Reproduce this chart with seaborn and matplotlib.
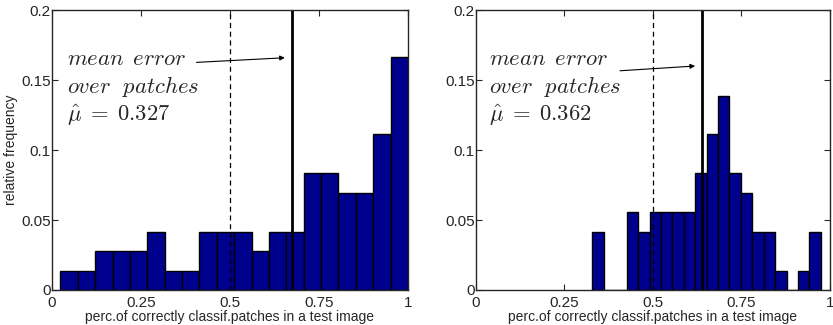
import numpy as np
import pandas as pd
import matplotlib
matplotlib.use('Agg')
import matplotlib.pyplot as plt
import seaborn as sns

# number of test images per histogram (heights are counts / 72)
n_images = 72

# left panel: 20 bins between min and max of the per-image accuracy
left_range = (0.0238, 1.0)
left_counts = [1, 1, 2, 2, 2, 3, 1, 1, 3, 3, 3, 2, 3, 3, 6, 6, 5, 5, 8, 12]
left_mu = 0.327

# right panel
right_range = (0.329, 0.974)
right_counts = [3, 0, 0, 4, 3, 4, 4, 4, 4, 6, 8, 10, 6, 5, 3, 3, 1, 0, 1, 3]
right_mu = 0.362

xticks = [0, 0.25, 0.5, 0.75, 1]
xticklabels = ['0', '0.25', '0.5', '0.75', '1']
yticks = [0, 0.05, 0.1, 0.15, 0.2]
yticklabels = ['0', '0.05', '0.1', '0.15', '0.2']

sns.set_style('ticks')
plt.rcParams['font.family'] = ['Liberation Sans', 'DejaVu Sans']
plt.rcParams['mathtext.fontset'] = 'cm'
plt.rcParams['xtick.direction'] = 'in'
plt.rcParams['ytick.direction'] = 'in'

fig = plt.figure(figsize=(8.33, 3.25), dpi=100)
ax1 = fig.add_axes([0.0624, 0.1077, 0.4274, 0.8615])
ax2 = fig.add_axes([0.5714, 0.1077, 0.4250, 0.8615])


def draw_panel(ax, rng, counts, mu, text_x, arrow_from, arrow_to):
    nb = len(counts)
    w = (rng[1] - rng[0]) / nb
    df = pd.DataFrame({
        'center': rng[0] + w * (np.arange(nb) + 0.5),
        'freq': np.array(counts) / n_images,
    })
    sns.histplot(data=df, x='center', weights='freq', bins=nb, binrange=rng,
                 ax=ax, color='#00008F', edgecolor='black', linewidth=1.0,
                 alpha=1)
    ax.axvline(0.5, color='black', linestyle=(0, (4, 3)), linewidth=0.9)
    ax.axvline(1 - mu, color='black', linewidth=2.0)
    ax.set_xlim(0, 1)
    ax.set_ylim(0, 0.2)
    ax.set_xticks(xticks)
    ax.set_xticklabels(xticklabels, fontsize=11)
    ax.set_yticks(yticks)
    ax.set_yticklabels(yticklabels, fontsize=11)
    ax.tick_params(top=True, right=True, length=4, width=0.8, pad=1)
    ax.tick_params(axis='x', pad=4)
    for s in ax.spines.values():
        s.set_visible(True)
        s.set_linewidth(1.0)
    ax.set_xlabel('perc.of correctly classif.patches in a test image',
                  fontsize=10, labelpad=0)
    ax.set_ylabel('')
    ax.text(text_x, 0.1655, r'$mean\ \,error$', fontsize=16.3, va='center')
    ax.text(text_x, 0.1455, r'$over\ \ patches$', fontsize=16.3, va='center')
    ax.text(text_x, 0.1245, r'$\hat{\mu}\;=\;%.3f$' % mu, fontsize=16.3,
            va='center')
    ax.annotate('', xy=arrow_to, xytext=arrow_from,
                arrowprops=dict(arrowstyle='-|>', color='black', lw=0.8,
                                mutation_scale=7, shrinkA=0, shrinkB=0))


draw_panel(ax1, left_range, left_counts, left_mu, 0.041,
           (0.406, 0.1626), (0.654, 0.1659))
draw_panel(ax2, right_range, right_counts, right_mu, 0.037,
           (0.407, 0.1566), (0.619, 0.160))
ax1.set_ylabel('relative frequency', fontsize=10, labelpad=2)

fig.savefig('out.png', dpi=100)
